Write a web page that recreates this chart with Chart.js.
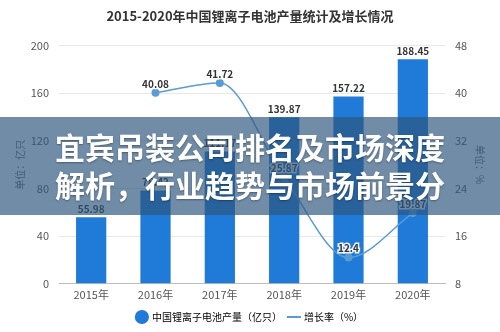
<!DOCTYPE html>
<html>
<head>
<meta charset="utf-8">
<script src="https://cdn.jsdelivr.net/npm/chart.js@4"></script>
<style>
  html, body { margin: 0; padding: 0; background: #fff; }
  #wrap { position: relative; width: 500px; height: 332px; overflow: hidden; }
  #banner {
    position: absolute; left: 0; top: 117px; width: 500px; height: 98px;
    background: rgba(45, 86, 126, 0.68);
    color: #fff; text-align: center;
    font-family: "Noto Sans CJK SC", sans-serif; font-weight: 700;
    font-size: 30px; line-height: 38px; padding-top: 10px; box-sizing: border-box;
    text-shadow: 0 1px 2px rgba(0,0,0,0.35);
    pointer-events: none;
  }
</style>
</head>
<body>
<div id="wrap">
  <canvas id="c" width="500" height="332"></canvas>
  <div id="banner">宜宾吊装公司排名及市场深度<br>解析，行业趋势与市场前景分</div>
</div>
<script>
// Data.
const years = ["2015年", "2016年", "2017年", "2018年", "2019年", "2020年"];
const output = [55.98, 78.42, 111.17, 139.87, 157.22, 188.45];   // 亿只
const growth = [null, 40.08, 41.72, 25.87, 12.4, 19.87];          // %
const leftTicks = [0, 40, 80, 120, 160, 200];
const rightTicks = [8, 16, 24, 32, 40, 48];

const FONT = '"Noto Sans CJK SC", sans-serif';
const C = {
  bar: "#1f7ad8",
  line: "#5a9bd6",
  text: "#555",
  grid: "#e8e8e8",
  axis: "#bdbdbd",
};

// value labels above bars and points
const valueLabels = {
  id: "valueLabels",
  afterDatasetsDraw(chart) {
    const ctx = chart.ctx;
    ctx.save();
    ctx.font = "bold 10px " + FONT;
    ctx.textAlign = "center";
    ctx.textBaseline = "bottom";
    chart.data.datasets.forEach((ds, di) => {
      const meta = chart.getDatasetMeta(di);
      meta.data.forEach((el, i) => {
        const v = ds.data[i];
        if (v == null) return;
        const y = di === 0 ? el.y - 3 : el.y - 4;
        if (di === 1) {
          ctx.lineWidth = 3; ctx.strokeStyle = "rgba(255,255,255,0.9)";
          ctx.strokeText(String(v), el.x, y);
        }
        ctx.fillStyle = "#333";
        ctx.fillText(String(v), el.x, y);
      });
    });
    ctx.restore();
  }
};

new Chart(document.getElementById("c"), {
  data: {
    labels: years,
    datasets: [
      {
        type: "bar", label: "中国锂离子电池产量（亿只）", data: output,
        backgroundColor: C.bar, yAxisID: "y", order: 2,
        categoryPercentage: 1, barPercentage: 0.47,
      },
      {
        type: "line", label: "增长率（%）", data: growth,
        borderColor: C.line, backgroundColor: C.line, borderWidth: 1.5,
        pointRadius: 4, pointBorderWidth: 0,
        pointBackgroundColor: C.line, tension: 0.4, cubicInterpolationMode: "monotone",
        yAxisID: "y1", order: 1,
      },
    ],
  },
  options: {
    responsive: false,
    animation: false,
    layout: { padding: { top: 0, bottom: 0, left: 14, right: 14 } },
    plugins: {
      title: {
        display: true, text: "2015-2020年中国锂离子电池产量统计及增长情况",
        color: "#333", font: { family: FONT, size: 13, weight: "bold" },
        padding: { top: 8, bottom: 22 },
      },
      legend: {
        position: "bottom",
        labels: {
          usePointStyle: true, color: "#333", boxWidth: 10, boxHeight: 10, padding: 7,
          font: { family: FONT, size: 10 },
          generateLabels: (chart) => [
            { text: "中国锂离子电池产量（亿只）", fillStyle: C.bar, strokeStyle: C.bar, pointStyle: "circle", datasetIndex: 0, lineWidth: 0 },
            { text: "增长率（%）", fillStyle: C.line, strokeStyle: C.line, pointStyle: "line", datasetIndex: 1, lineWidth: 2 },
          ],
        },
      },
      tooltip: { enabled: false },
    },
    scales: {
      x: {
        grid: { display: false, drawTicks: false },
        border: { color: C.axis },
        ticks: { color: C.text, font: { family: FONT, size: 11 }, padding: 4 },
      },
      y: {
        position: "left", min: 0, max: 200,
        afterBuildTicks: (s) => { s.ticks = leftTicks.map((v) => ({ value: v })); },
        afterFit: (s) => { s.width = 45; },
        grid: { color: C.grid, drawTicks: false },
        border: { display: false },
        ticks: { color: C.text, font: { family: FONT, size: 11 }, padding: 10 },
        title: { display: true, text: "单位：亿只", color: "#666", font: { family: FONT, size: 10 }, padding: 0 },
      },
      y1: {
        position: "right", min: 8, max: 48,
        afterBuildTicks: (s) => { s.ticks = rightTicks.map((v) => ({ value: v })); },
        afterFit: (s) => { s.width = 41; },
        grid: { display: false, drawTicks: false },
        border: { display: false },
        ticks: { color: C.text, font: { family: FONT, size: 11 }, padding: 10 },
        title: { display: true, text: "单位：%", color: "#666", font: { family: FONT, size: 10 }, padding: 0 },
      },
    },
  },
  plugins: [valueLabels],
});
</script>
</body>
</html>
